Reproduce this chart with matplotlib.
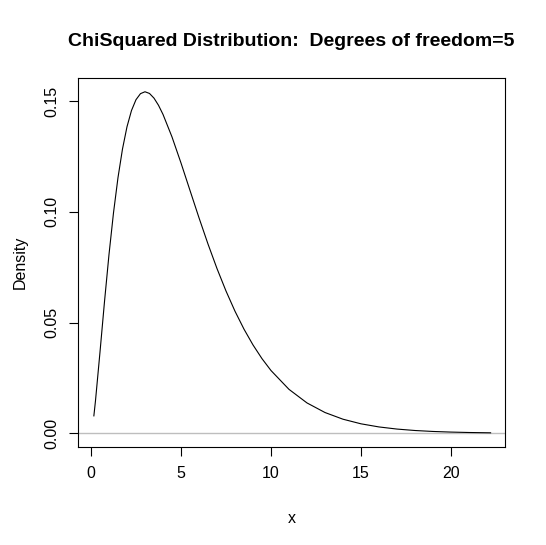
import matplotlib
matplotlib.use("Agg")
import matplotlib.pyplot as plt

plt.rcParams['font.family'] = ['Liberation Sans', 'DejaVu Sans']

# density values
x_vals = [0.16, 0.25, 0.5, 0.75, 1.0, 1.25, 1.5, 1.75, 2.0, 2.25, 2.5, 2.75,
          3.0, 3.25, 3.5, 3.75, 4.0, 4.5, 5.0, 5.5, 6.0, 6.5, 7.0, 7.5, 8.0,
          8.5, 9.0, 9.5, 10, 11, 12, 13, 14, 15, 16, 17, 18, 19, 20, 21, 22.2]
y_vals = [0.00786, 0.01467, 0.03662, 0.05936, 0.08066, 0.09948, 0.11540,
          0.12833, 0.13837, 0.14571, 0.15060, 0.15333, 0.15418, 0.15342,
          0.15131, 0.14809, 0.14398, 0.13380, 0.12204, 0.10965, 0.09730,
          0.08545, 0.07437, 0.06424, 0.05511, 0.04701, 0.03989, 0.03369,
          0.02833, 0.01983, 0.01370, 0.00937, 0.00635, 0.00427, 0.00286,
          0.00190, 0.00125, 0.00082, 0.00054, 0.00035, 0.00021]

x_ticks = [0, 5, 10, 15, 20]
y_ticks = [0.00, 0.05, 0.10, 0.15]

fig = plt.figure(figsize=(5.46, 5.45), dpi=100)
ax = fig.add_axes([0.1429, 0.1798, 0.782, 0.6771])

ax.axhline(0, color='#bebebe', lw=1)
ax.plot(x_vals, y_vals, color='black', lw=0.8)

ax.set_xlim(-0.72, 23.0)
ax.set_ylim(-0.0062, 0.1604)
ax.set_xticks(x_ticks)
ax.set_xticklabels([str(t) for t in x_ticks])
ax.set_yticks(y_ticks)
ax.set_yticklabels(['%.2f' % t for t in y_ticks])
for lab in ax.get_yticklabels():
    lab.set_rotation(90)
    lab.set_va('center')

ax.tick_params(direction='out', length=6.5, width=0.8, labelsize=11.5, pad=7)
for s in ax.spines.values():
    s.set_linewidth(0.8)

ax.set_xlabel('x', fontsize=11.5, labelpad=22)
ax.set_ylabel('Density', fontsize=11.5, labelpad=12)
ax.set_title('ChiSquared Distribution:  Degrees of freedom=5',
             fontsize=14, fontweight='bold', pad=23)

fig.savefig('out.png', dpi=100)
